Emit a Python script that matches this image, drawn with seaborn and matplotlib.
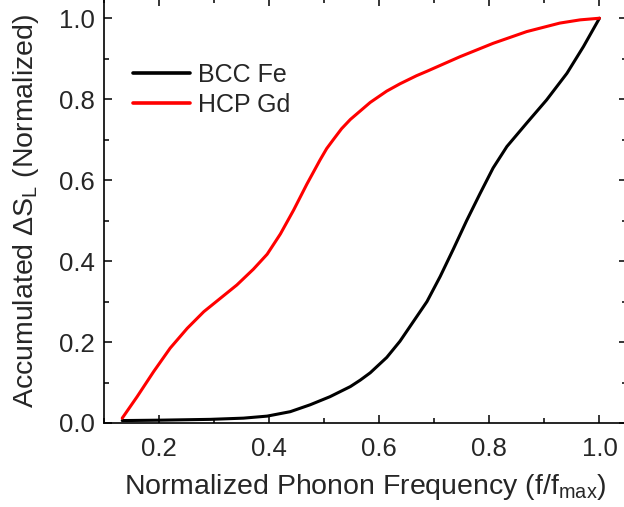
import numpy as np
import pandas as pd
import matplotlib
matplotlib.use("Agg")
import matplotlib.pyplot as plt
import seaborn as sns
from matplotlib.ticker import MultipleLocator

# ---- data ----
fe_x = [0.134, 0.203, 0.294, 0.354, 0.397, 0.439, 0.475, 0.511, 0.548, 0.566,
        0.584, 0.614, 0.638, 0.656, 0.687, 0.711, 0.735, 0.759, 0.783, 0.807,
        0.832, 0.868, 0.904, 0.941, 0.971, 1.000]
fe_y = [0.006, 0.007, 0.009, 0.012, 0.017, 0.028, 0.045, 0.065, 0.090, 0.106,
        0.124, 0.162, 0.202, 0.238, 0.300, 0.362, 0.430, 0.500, 0.566, 0.630,
        0.683, 0.741, 0.798, 0.864, 0.930, 1.000]

gd_x = [0.134, 0.161, 0.191, 0.221, 0.252, 0.282, 0.312, 0.342, 0.372, 0.397,
        0.421, 0.445, 0.469, 0.493, 0.505, 0.517, 0.532, 0.548, 0.584, 0.614,
        0.638, 0.668, 0.687, 0.747, 0.807, 0.868, 0.928, 0.965, 1.000]
gd_y = [0.012, 0.065, 0.127, 0.185, 0.234, 0.275, 0.308, 0.341, 0.380, 0.417,
        0.467, 0.526, 0.590, 0.650, 0.678, 0.700, 0.727, 0.750, 0.792, 0.820,
        0.838, 0.858, 0.869, 0.905, 0.938, 0.967, 0.988, 0.996, 1.000]

series_names = ["BCC Fe", "HCP Gd"]
series_colors = ["black", "red"]
x_ticks = [0.2, 0.4, 0.6, 0.8, 1.0]
y_ticks = [0.0, 0.2, 0.4, 0.6, 0.8, 1.0]

df = pd.concat([
    pd.DataFrame({"x": fe_x, "y": fe_y, "material": series_names[0]}),
    pd.DataFrame({"x": gd_x, "y": gd_y, "material": series_names[1]}),
], ignore_index=True)

sns.set_style("ticks")
plt.rcParams["font.family"] = ["Liberation Sans", "DejaVu Sans"]
plt.rcParams["mathtext.fontset"] = "custom"
plt.rcParams["mathtext.rm"] = "Liberation Sans"
plt.rcParams["mathtext.it"] = "Liberation Sans:italic"
plt.rcParams["mathtext.bf"] = "Liberation Sans:bold"

fig = plt.figure(figsize=(6.24, 5.07), dpi=100)
# axes box extends slightly past the top/right edge of the image (as in reference)
ax = fig.add_axes([103.5 / 624, 84 / 507, (627.0 - 103.5) / 624, (423 + 2) / 507])

sns.lineplot(data=df, x="x", y="y", hue="material",
             palette=dict(zip(series_names, series_colors)),
             linewidth=2.2, ax=ax, legend=True, sort=False, estimator=None)
for ln in ax.get_lines():
    ln.set_solid_joinstyle("round")
    ln.set_solid_capstyle("round")

ax.set_xlim(0.1, 1.05)
ax.set_ylim(0.0, 1.05)
ax.set_xticks(x_ticks)
ax.set_yticks(y_ticks)
ax.set_xticklabels([f"{v:.1f}" for v in x_ticks])
ax.set_yticklabels([f"{v:.1f}" for v in y_ticks])
ax.xaxis.set_minor_locator(MultipleLocator(0.1))
ax.yaxis.set_minor_locator(MultipleLocator(0.1))
ax.tick_params(which="both", direction="in", top=True, right=True, width=1.1, color="black")
ax.tick_params(which="major", length=6, labelsize=18.5)
ax.tick_params(which="minor", length=3.5)
ax.tick_params(axis="x", which="major", pad=10)
ax.tick_params(axis="y", which="major", pad=6)
for s in ax.spines.values():
    s.set_linewidth(1.2)
    s.set_color("black")

ax.set_xlabel(r"Normalized Phonon Frequency (f/f$_\mathrm{max}$)", fontsize=20.5, labelpad=8)
ax.set_ylabel(r"Accumulated $\Delta$S$_\mathrm{L}$ (Normalized)", fontsize=20.5, labelpad=13)

leg = ax.legend(loc="upper left", bbox_to_anchor=(0.056, 0.848), frameon=False,
                fontsize=18, handlelength=2.3, handletextpad=0.3, labelspacing=0.24,
                borderaxespad=0, borderpad=0)
for line in leg.get_lines():
    line.set_linewidth(2.6)

fig.savefig("out.png", dpi=100)
